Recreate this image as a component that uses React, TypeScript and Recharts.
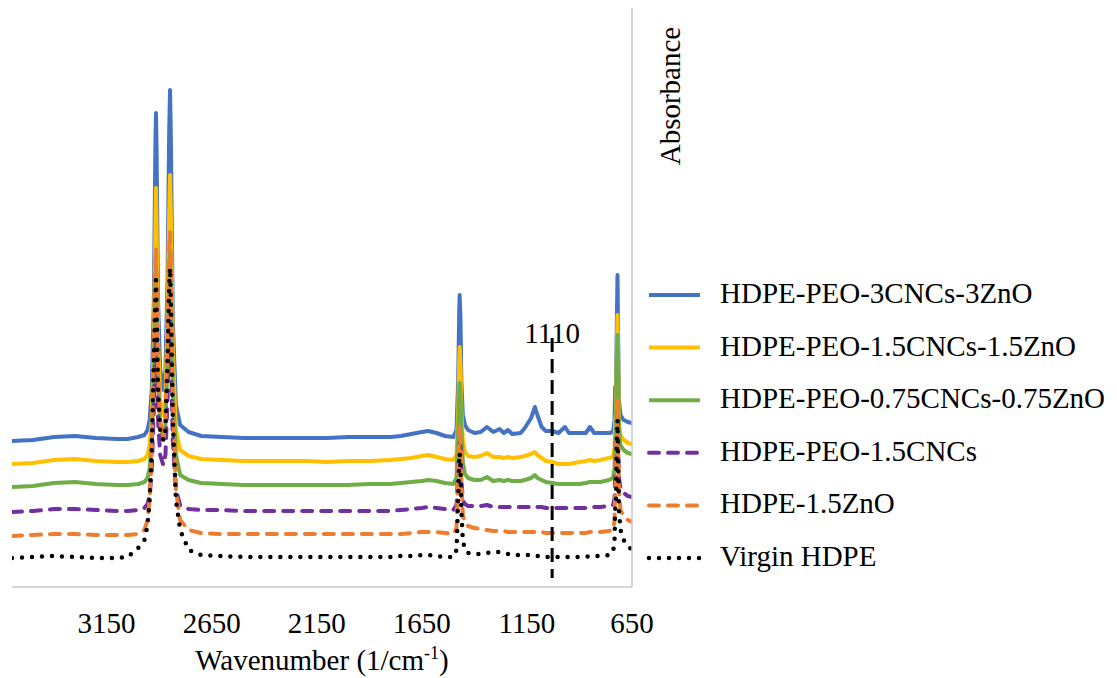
import React from 'react';
import { LineChart, Line, XAxis, YAxis, ReferenceLine, Legend } from 'recharts';

const FONT = '"Liberation Serif", "Times New Roman", Times, serif';

// Wavenumbers (cm-1)
const WAVENUMBERS = [
  3600, 3500, 3400, 3300, 3200, 3100, 3050, 3000, 2970, 2955,
  2945, 2935, 2925, 2918, 2915, 2912, 2905, 2895, 2880, 2870,
  2860, 2852, 2848, 2844, 2835, 2820, 2800, 2760, 2700, 2600,
  2500, 2400, 2300, 2200, 2100, 2000, 1900, 1800, 1750, 1700,
  1650, 1620, 1580, 1540, 1500, 1485, 1477, 1472, 1470, 1466,
  1462, 1455, 1445, 1430, 1400, 1370, 1340, 1310, 1280, 1260,
  1240, 1220, 1180, 1160, 1145, 1130, 1112, 1100, 1080, 1060,
  1030, 1000, 969, 950, 900, 870, 850, 830, 800, 760,
  740, 733, 730, 726, 722, 719, 716, 712, 705, 690,
  670, 650,
];

const HDPE_PEO_3CNC_3ZNO = [
  .146, .147, .150, .151, .149, .148, .148, .150, .152, .157,
  .167, .197, .287, .437, .474, .437, .287, .217, .197, .217,
  .307, .457, .497, .447, .267, .182, .162, .155, .151, .150,
  .149, .149, .149, .149, .149, .150, .150, .150, .151, .153,
  .155, .156, .154, .151, .150, .157, .207, .277, .292, .267,
  .207, .172, .162, .157, .154, .155, .160, .155, .158, .154,
  .157, .153, .154, .159, .164, .169, .180, .172, .160, .156,
  .156, .154, .160, .154, .154, .154, .160, .154, .154, .154,
  .155, .167, .200, .202, .267, .312, .252, .187, .172, .167,
  .165, .164,
];

const HDPE_PEO_15CNC_15ZNO = [
  .123, .124, .127, .128, .126, .125, .125, .126, .128, .132,
  .142, .167, .247, .357, .399, .357, .247, .187, .172, .187,
  .267, .377, .412, .372, .237, .157, .137, .131, .128, .127,
  .126, .126, .126, .126, .125, .126, .126, .127, .128, .129,
  .131, .132, .130, .128, .127, .132, .177, .227, .240, .222,
  .177, .147, .135, .131, .130, .131, .134, .130, .130, .129,
  .130, .129, .130, .131, .132, .133, .135, .132, .129, .126,
  .125, .123, .123, .123, .125, .126, .127, .126, .127, .129,
  .130, .139, .167, .175, .237, .272, .227, .167, .152, .147,
  .144, .143,
];

const HDPE_PEO_075CNC_075ZNO = [
  .100, .101, .104, .105, .103, .102, .102, .103, .105, .109,
  .119, .147, .217, .297, .322, .287, .207, .162, .147, .162,
  .227, .317, .337, .307, .197, .132, .112, .107, .104, .103,
  .102, .102, .102, .102, .102, .102, .103, .103, .104, .105,
  .106, .107, .106, .104, .103, .109, .157, .197, .204, .192,
  .157, .125, .113, .109, .107, .107, .110, .106, .107, .106,
  .107, .106, .106, .107, .108, .109, .112, .109, .107, .105,
  .104, .103, .103, .103, .103, .104, .105, .105, .105, .107,
  .109, .119, .147, .155, .222, .252, .202, .155, .142, .137,
  .134, .133,
];

const HDPE_PEO_15CNC = [
  .075, .076, .078, .078, .077, .076, .076, .077, .079, .083,
  .092, .117, .177, .237, .257, .227, .167, .132, .122, .132,
  .187, .257, .272, .242, .147, .097, .082, .078, .077, .077,
  .076, .076, .076, .076, .076, .076, .076, .076, .077, .078,
  .079, .080, .079, .078, .077, .082, .117, .142, .147, .137,
  .107, .087, .083, .081, .081, .081, .082, .080, .080, .080,
  .080, .080, .080, .080, .080, .080, .081, .080, .080, .079,
  .079, .079, .079, .079, .079, .079, .080, .080, .080, .081,
  .082, .089, .112, .117, .157, .172, .142, .109, .099, .094,
  .091, .090,
];

const HDPE_15ZNO = [
  .051, .052, .053, .053, .052, .052, .052, .053, .057, .067,
  .087, .137, .237, .317, .339, .307, .217, .167, .147, .167,
  .247, .337, .355, .322, .187, .097, .067, .057, .054, .053,
  .053, .053, .053, .053, .053, .053, .053, .053, .053, .054,
  .055, .055, .055, .054, .053, .059, .117, .157, .162, .147,
  .107, .072, .064, .061, .059, .058, .057, .056, .056, .056,
  .055, .055, .055, .055, .055, .055, .055, .055, .055, .054,
  .054, .054, .054, .054, .054, .054, .055, .055, .055, .056,
  .057, .067, .097, .107, .167, .187, .147, .097, .077, .071,
  .067, .065,
];

const VIRGIN_HDPE = [
  .029, .030, .031, .030, .029, .029, .030, .039, .047, .062,
  .087, .137, .227, .287, .307, .277, .197, .157, .147, .157,
  .227, .302, .319, .287, .167, .087, .057, .037, .032, .031,
  .030, .030, .030, .030, .030, .030, .030, .030, .031, .031,
  .032, .032, .031, .030, .030, .037, .087, .127, .134, .117,
  .077, .047, .037, .034, .033, .033, .034, .035, .035, .034,
  .033, .032, .032, .032, .032, .031, .031, .031, .031, .030,
  .030, .030, .030, .030, .030, .030, .031, .031, .031, .032,
  .035, .047, .077, .087, .147, .167, .127, .077, .057, .047,
  .041, .037,
];

const X_TICKS = [3150, 2650, 2150, 1650, 1150, 650];
const X_DOMAIN = [650, 3600];
const Y_DOMAIN = [0, 0.579];
const MARKER_WN = 1030;
const MARKER_LABEL = '1110';
const MARKER_TOP = 0.249;
const MARKER_BOTTOM = 0.009;

const SERIES = [
  { key: 's1', name: 'HDPE-PEO-3CNCs-3ZnO', color: '#4472C4', dash: undefined as string | undefined, width: 4, values: HDPE_PEO_3CNC_3ZNO },
  { key: 's2', name: 'HDPE-PEO-1.5CNCs-1.5ZnO', color: '#FFC000', dash: undefined, width: 4, values: HDPE_PEO_15CNC_15ZNO },
  { key: 's3', name: 'HDPE-PEO-0.75CNCs-0.75ZnO', color: '#70AD47', dash: undefined, width: 4, values: HDPE_PEO_075CNC_075ZNO },
  { key: 's4', name: 'HDPE-PEO-1.5CNCs', color: '#7030A0', dash: '10 9', width: 4, values: HDPE_PEO_15CNC },
  { key: 's5', name: 'HDPE-1.5ZnO', color: '#ED7D31', dash: '10 9', width: 4, values: HDPE_15ZNO },
  { key: 's6', name: 'Virgin HDPE', color: '#000000', dash: '0 10', width: 4.5, values: VIRGIN_HDPE },
];

const data = WAVENUMBERS.map((wn, i) => {
  const row: Record<string, number> = { wn };
  SERIES.forEach((s) => { row[s.key] = s.values[i]; });
  return row;
});

const XTitle = () => (
  <text x={322} y={670} textAnchor="middle" fontSize={29} fontFamily={FONT} fill="#000">
    Wavenumber (1/cm<tspan fontSize={18} dy={-11}>-1</tspan><tspan dy={11}>)</tspan>
  </text>
);

const YTitle = () => (
  <text x={680} y={96} transform="rotate(-90 680 96)" textAnchor="middle" fontSize={29} fontFamily={FONT} fill="#000">
    Absorbance
  </text>
);

const MarkerLabel = (props: any) => {
  const vb = props.viewBox || {};
  const x = (vb.x ?? 552) + (vb.width ?? 0) / 2;
  const y = (vb.y ?? 338) + 5;
  return (
    <text x={x} y={y} textAnchor="middle" fontSize={29} fontFamily={FONT} fill="#000">
      {MARKER_LABEL}
    </text>
  );
};

const renderLegend = () => (
  <svg width={477} height={320} style={{ display: 'block', overflow: 'visible' }}>
    {SERIES.map((s, i) => {
      const cy = 33 + i * 52.6;
      return (
        <g key={s.key}>
          <line x1={9} x2={60} y1={cy} y2={cy} stroke={s.color} strokeWidth={s.width}
            strokeDasharray={s.dash} strokeLinecap={s.dash ? 'round' : 'butt'} />
          <text x={80} y={cy + 8} fontSize={29} fontFamily={FONT} fill="#000">{s.name}</text>
        </g>
      );
    })}
  </svg>
);

export default function App() {
  return (
    <div style={{ position: 'absolute', left: 0, top: 0, width: 1117, height: 678, background: '#fff', fontFamily: FONT }}>
      <LineChart width={1117} height={678} data={data} margin={{ top: 8, right: 425, bottom: 0, left: 12 }}>
        <XAxis
          dataKey="wn"
          type="number"
          domain={X_DOMAIN}
          reversed
          allowDataOverflow
          ticks={X_TICKS}
          interval={0}
          tickLine={false}
          tickSize={0}
          tickMargin={25}
          height={91}
          axisLine={{ stroke: '#c9c9c9', strokeWidth: 1.5 }}
          tick={{ fill: '#000', fontSize: 29, fontFamily: FONT }}
          label={XTitle}
        />
        <YAxis
          orientation="right"
          domain={Y_DOMAIN}
          allowDataOverflow
          width={60}
          tick={false}
          tickLine={false}
          axisLine={{ stroke: '#c9c9c9', strokeWidth: 1.5 }}
          label={YTitle}
        />
        {SERIES.map((s) => (
          <Line
            key={s.key}
            dataKey={s.key}
            name={s.name}
            type="linear"
            stroke={s.color}
            strokeWidth={s.width}
            strokeDasharray={s.dash}
            strokeLinecap="round"
            strokeLinejoin="round"
            dot={false}
            activeDot={false}
            isAnimationActive={false}
          />
        ))}
        <ReferenceLine
          segment={[{ x: MARKER_WN, y: MARKER_TOP }, { x: MARKER_WN, y: MARKER_BOTTOM }]}
          stroke="#000"
          strokeWidth={3}
          strokeDasharray="14 7"
          label={MarkerLabel}
        />
        <Legend
          content={renderLegend}
          wrapperStyle={{ left: 640, top: 262, width: 477, height: 0, overflow: 'visible' }}
        />
      </LineChart>
    </div>
  );
}
